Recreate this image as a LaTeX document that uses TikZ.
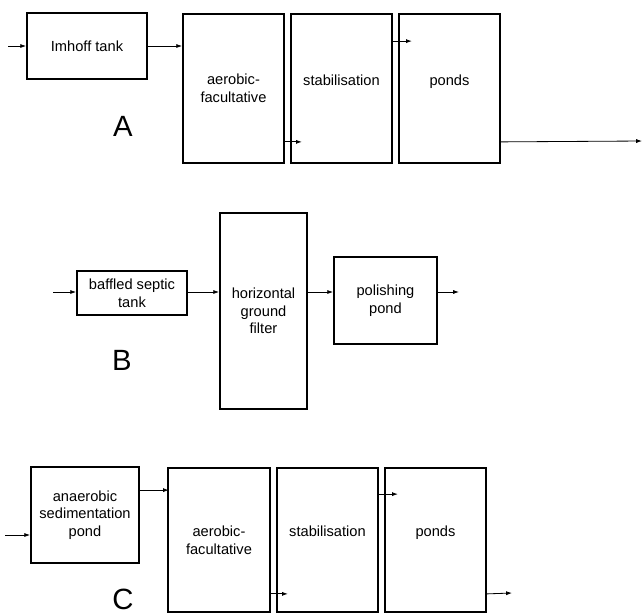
\documentclass[tikz,border=0pt]{standalone}
\usepackage{fontspec}
\setmainfont{Liberation Sans}
\usetikzlibrary{arrows.meta, calc, positioning}

\begin{document}
\begin{tikzpicture}[>={Latex[length=5pt,width=3.5pt]}, x=0.03cm, y=-0.03cm,
    unit/.style={draw, line width=1.5pt, inner sep=0pt, align=center, font=\fontsize{12.5}{15}\selectfont},
    raised/.style={text depth=0.5cm},
    flow/.style={->, line width=0.7pt},
    tag/.style={font=\fontsize{25}{28}\selectfont}]

% Fix the page to the size of the reference
\useasboundingbox (0,0) rectangle (643,614);

% ---------------- Scheme A ----------------
\node[unit, minimum width=3.6cm, minimum height=1.98cm] (imhoff) at (87,46) {Imhoff tank};
\node[unit, minimum width=3.03cm, minimum height=4.47cm] (aeroA) at (233.5,88.5) {aerobic-\\facultative};
\node[unit, raised, minimum width=3.03cm, minimum height=4.47cm] (stabA) at (341.5,88.5) {stabilisation};
\node[unit, raised, minimum width=3.03cm, minimum height=4.47cm] (pondA) at (449.5,88.5) {ponds};
\node[tag] (labA) at (123,126) {A};

\coordinate (inA) at (8,46);
\coordinate (outA) at (642,141);

\draw[flow] (inA) -- (imhoff.west);
\draw[flow] (imhoff.east) -- (imhoff.east -| aeroA.west);
\draw[flow] ($(aeroA.south east)+(0,-22)$) -- ++(17,0);
\draw[flow] ($(stabA.north east)+(0,28)$) -- ++(19,0);
\draw[flow] ($(pondA.south east)+(0,-22)$) -- (outA);

% ---------------- Scheme B ----------------
\node[unit, minimum width=3.3cm, minimum height=1.32cm] (baffled) at (132,293) {baffled septic\\tank};
\node[unit, minimum width=2.61cm, minimum height=5.88cm] (filter) at (263.5,311) {horizontal\\ground\\filter};
\node[unit, minimum width=3.09cm, minimum height=2.61cm] (polish) at (385.5,300.5) {polishing\\pond};
\node[tag] (labB) at (122,360) {B};

\coordinate (inB) at (53,292);
\coordinate (outB) at (459,292);

\draw[flow] (inB) -- (inB -| baffled.west);
\draw[flow] (inB -| baffled.east) -- (inB -| filter.west);
\draw[flow] (inB -| filter.east) -- (inB -| polish.west);
\draw[flow] (inB -| polish.east) -- (outB);

% ---------------- Scheme C ----------------
\node[unit, minimum width=3.24cm, minimum height=2.88cm] (anaer) at (85,515) {anaerobic\\sedimentation\\pond};
\node[unit, minimum width=3.06cm, minimum height=4.32cm] (aeroC) at (219,540) {aerobic-\\facultative};
\node[unit, raised, minimum width=3.03cm, minimum height=4.32cm] (stabC) at (327.5,540) {stabilisation};
\node[unit, raised, minimum width=3.03cm, minimum height=4.32cm] (pondC) at (435.5,540) {ponds};
\node[tag] (labC) at (123,599) {C};

\coordinate (inC) at (5,535);
\coordinate (outC) at (512,593);

\draw[flow] (inC) -- (inC -| anaer.west);
\draw[flow] ($(anaer.north east)+(0,24)$) -- ++(29,0);
\draw[flow] ($(aeroC.south east)+(0,-19)$) -- ++(17,0);
\draw[flow] ($(stabC.north east)+(0,27)$) -- ++(19,0);
\draw[flow] ($(pondC.south east)+(0,-19)$) -- (outC);

\end{tikzpicture}
\end{document}
